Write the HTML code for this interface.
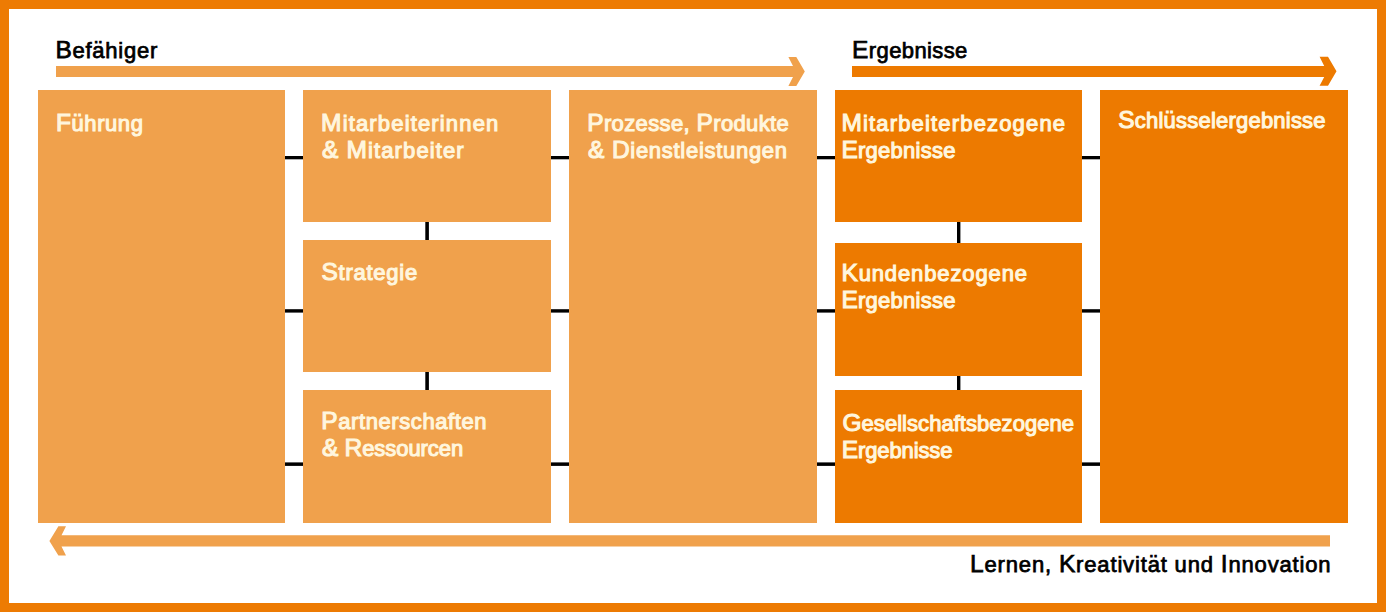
<!DOCTYPE html>
<html><head><meta charset="utf-8"><style>
html,body{margin:0;padding:0;}
body{width:1386px;height:612px;position:relative;overflow:hidden;background:#fff;font-family:"Liberation Sans",sans-serif;}
.frame{position:absolute;left:0;top:0;width:1386px;height:612px;box-sizing:border-box;border:9px solid #ED7B03;}
.b{position:absolute;}
.c{font-size:24.5px;}
.um{position:relative;}
.um::after{content:"\00A8";position:absolute;left:0;width:100%;text-align:center;top:-3px;}
.t.k{-webkit-text-stroke:0.75px #000;}
.t{position:absolute;white-space:nowrap;font-weight:normal;-webkit-text-stroke:1.1px currentColor;line-height:28px;transform-origin:0 0;}
</style></head><body>
<div class="frame"></div>
<svg width="1386" height="612" style="position:absolute;left:0;top:0">
<rect x="285" y="156" width="816" height="3.3" fill="#000"/>
<rect x="285" y="309.2" width="816" height="3.4" fill="#000"/>
<rect x="285" y="462.4" width="816" height="3.5" fill="#000"/>
<rect x="425.3" y="100" width="3.6" height="400" fill="#000"/>
<rect x="957" y="100" width="3.4" height="400" fill="#000"/>
<polygon fill="#F0A14C" points="56,66 793,66 788.4,56.9 796.3,56.9 804.8,71.4 796.3,85.9 788.4,85.9 793,77 56,77"/>
<polygon fill="#ED7A00" points="852,66 1324.2,66 1319.6,56.7 1328,56.7 1336.5,71.3 1328,85.8 1319.6,85.8 1324.2,77 852,77"/>
<polygon fill="#F0A14C" points="1330,535.3 61.5,535.3 66,526.2 58.4,526.2 49.4,540.9 58.4,555.6 66,555.6 61.5,546.5 1330,546.5"/>
</svg>
<div class="b" style="left:38px;top:89.5px;width:247.20px;height:433.50px;background:#F0A14C"></div><div class="b" style="left:303.3px;top:89.5px;width:247.60px;height:132.50px;background:#F0A14C"></div><div class="b" style="left:303.3px;top:240.1px;width:247.60px;height:132.30px;background:#F0A14C"></div><div class="b" style="left:303.3px;top:390.2px;width:247.60px;height:132.80px;background:#F0A14C"></div><div class="b" style="left:568.8px;top:89.5px;width:248.00px;height:433.50px;background:#F0A14C"></div><div class="b" style="left:834.8px;top:89.5px;width:247.40px;height:132.60px;background:#ED7A00"></div><div class="b" style="left:834.8px;top:243px;width:247.40px;height:132.50px;background:#ED7A00"></div><div class="b" style="left:834.8px;top:390.4px;width:247.40px;height:132.60px;background:#ED7A00"></div><div class="b" style="left:1100.3px;top:89.5px;width:247.90px;height:433.50px;background:#ED7A00"></div>
<div class="t k" style="left:55.39px;top:35.71px;color:#000;font-size:22px;letter-spacing:0.750px;transform:scaleX(1.0000)"><span class="c">B</span>ef<span class="um">a</span>higer</div><div class="t k" style="left:852.09px;top:35.51px;color:#000;font-size:22px;letter-spacing:0.389px;transform:scaleX(1.0000)"><span class="c">E</span>rgebnisse</div><div class="t" style="left:55.93px;top:108.51px;color:#FFF6DE;font-size:22px;letter-spacing:0.583px;transform:scaleX(1.0000)"><span class="c">F</span><span class="um">u</span>hrung</div><div class="t" style="left:321.09px;top:108.61px;color:#FFF6DE;font-size:22px;letter-spacing:1.157px;transform:scaleX(1.0000)"><span class="c">M</span>itarbeiterinnen</div><div class="t" style="left:321.89px;top:136.31px;color:#FFF6DE;font-size:22px;letter-spacing:1.106px;transform:scaleX(1.0000)"><span class="c">&amp;</span> <span class="c">M</span>itarbeiter</div><div class="t" style="left:321.44px;top:258.41px;color:#FFF6DE;font-size:22px;letter-spacing:0.750px;transform:scaleX(1.0000)"><span class="c">S</span>trategie</div><div class="t" style="left:321.24px;top:406.91px;color:#FFF6DE;font-size:22px;letter-spacing:0.596px;transform:scaleX(1.0000)"><span class="c">P</span>artnerschaften</div><div class="t" style="left:322.10px;top:434.41px;color:#FFF6DE;font-size:22px;letter-spacing:-0.048px;transform:scaleX(1.0000)"><span class="c">&amp;</span> <span class="c">R</span>essourcen</div><div class="t" style="left:587.18px;top:108.61px;color:#FFF6DE;font-size:22px;letter-spacing:0.369px;transform:scaleX(1.0000)"><span class="c">P</span>rozesse, <span class="c">P</span>rodukte</div><div class="t" style="left:588.02px;top:136.31px;color:#FFF6DE;font-size:22px;letter-spacing:0.710px;transform:scaleX(1.0000)"><span class="c">&amp;</span> <span class="c">D</span>ienstleistungen</div><div class="t" style="left:841.43px;top:108.61px;color:#FFF6DE;font-size:22px;letter-spacing:1.165px;transform:scaleX(1.0000)"><span class="c">M</span>itarbeiterbezogene</div><div class="t" style="left:841.43px;top:136.31px;color:#FFF6DE;font-size:22px;letter-spacing:0.264px;transform:scaleX(1.0000)"><span class="c">E</span>rgebnisse</div><div class="t" style="left:841.40px;top:258.61px;color:#FFF6DE;font-size:22px;letter-spacing:0.886px;transform:scaleX(1.0000)"><span class="c">K</span>undenbezogene</div><div class="t" style="left:841.43px;top:286.31px;color:#FFF6DE;font-size:22px;letter-spacing:0.264px;transform:scaleX(1.0000)"><span class="c">E</span>rgebnisse</div><div class="t" style="left:842.48px;top:408.51px;color:#FFF6DE;font-size:22px;letter-spacing:0.045px;transform:scaleX(1.0000)"><span class="c">G</span>esellschaftsbezogene</div><div class="t" style="left:841.72px;top:436.31px;color:#FFF6DE;font-size:22px;letter-spacing:-0.112px;transform:scaleX(1.0000)"><span class="c">E</span>rgebnisse</div><div class="t" style="left:1118.29px;top:105.91px;color:#FFF6DE;font-size:22px;letter-spacing:0.211px;transform:scaleX(1.0000)"><span class="c">S</span>chl<span class="um">u</span>sselergebnisse</div><div class="t k" style="left:970.09px;top:549.71px;color:#000;font-size:22px;letter-spacing:0.840px;transform:scaleX(1.0000)"><span class="c">L</span>ernen, <span class="c">K</span>reativit<span class="um">a</span>t und <span class="c">I</span>nnovation</div>
</body></html>
